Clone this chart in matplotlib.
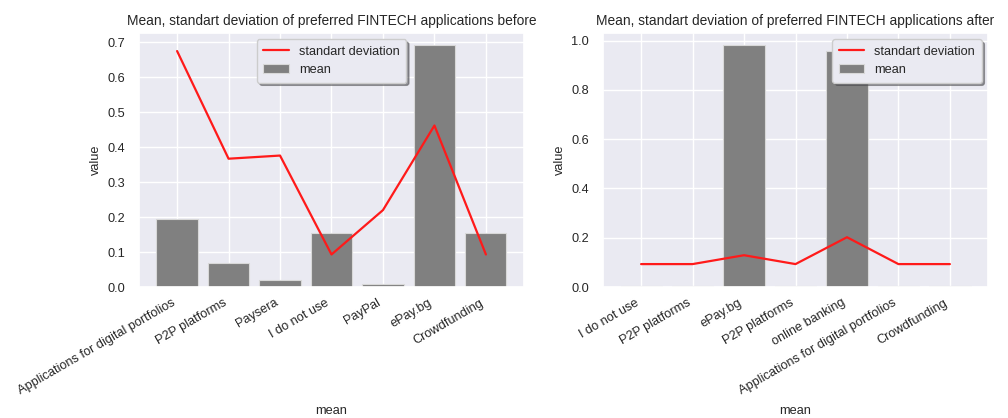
import matplotlib
matplotlib.use("Agg")
import matplotlib.pyplot as plt
import seaborn as sns

# data
before_labels = ["Applications for digital portfolios", "P2P platforms", "Paysera",
                 "I do not use", "PayPal", "ePay.bg", "Crowdfunding"]
before_mean = [0.195, 0.07, 0.02, 0.155, 0.008, 0.692, 0.155]
before_std = [0.675, 0.367, 0.376, 0.093, 0.22, 0.462, 0.093]

after_labels = ["I do not use", "P2P platforms", "ePay.bg", "P2P platforms",
                "online banking", "Applications for digital portfolios", "Crowdfunding"]
after_mean = [0.005, 0.005, 0.982, 0.005, 0.96, 0.005, 0.005]
after_std = [0.093, 0.093, 0.129, 0.093, 0.202, 0.093, 0.093]

sns.set_theme(style="darkgrid")
plt.rcParams['font.family'] = ['Liberation Sans', 'DejaVu Sans']

fig = plt.figure(figsize=(10.08, 4.18), dpi=100)
ax1 = fig.add_axes([139 / 1008, 1 - 287 / 418, (524 - 139) / 1008, (287 - 33) / 418])
ax2 = fig.add_axes([603 / 1008, 1 - 287 / 418, (988 - 603) / 1008, (287 - 33) / 418])


def draw(ax, labels, mean, std, title, loc):
    x = list(range(len(labels)))
    ax.bar(x, mean, color='grey', edgecolor='#d8d8d8', linewidth=0.8, label='mean')
    ax.plot(x, std, color='#ff1a1a', lw=1.6, label='standart deviation')
    ax.set_xticks(x)
    ax.set_xticklabels(labels, rotation=30, ha='right', fontsize=9.2)
    ax.tick_params(axis='y', labelsize=9.2, pad=4)
    ax.tick_params(axis='x', pad=1)
    ax.set_title(title, fontsize=9.95, pad=6)
    ax.set_xlabel("mean", fontsize=9.2, va='center')
    ax.xaxis.set_label_coords(0.5, -0.488)
    ax.set_ylabel("value", fontsize=9.2)
    ax.legend(loc=loc, fontsize=9.2, shadow=True, frameon=True, borderpad=0.5)


draw(ax1, before_labels, before_mean, before_std,
     "Mean, standart deviation of preferred FINTECH applications before", 'upper center')
draw(ax2, after_labels, after_mean, after_std,
     "Mean, standart deviation of preferred FINTECH applications after", 'upper right')

fig.savefig("out.png", dpi=100)
